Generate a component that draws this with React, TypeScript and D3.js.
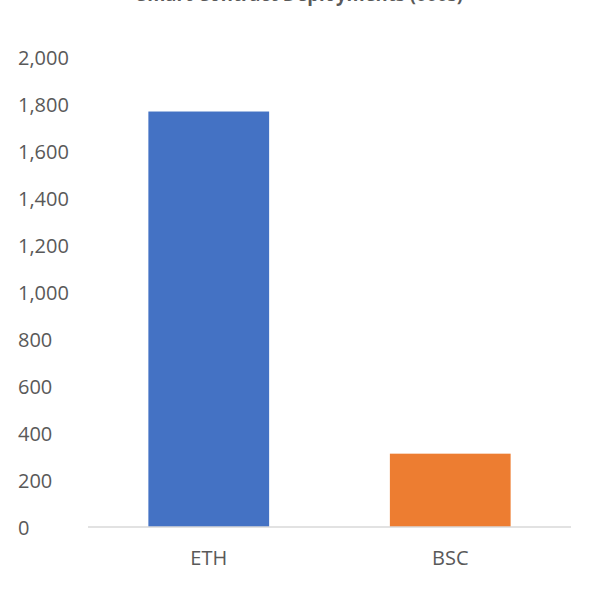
import React from "react";
import * as d3 from "d3";

const categories = ["ETH", "BSC"];
const values = [1768, 312];
const colors = ["#4472C4", "#ED7D31"];
const yTicks = [0, 200, 400, 600, 800, 1000, 1200, 1400, 1600, 1800, 2000];
const title = "Smart Contract Deployments (000s)";

export default function App() {
  const W = 600, H = 604;
  const x = d3.scaleBand<string>().domain(categories).range([88, 571]).paddingInner(0.5).paddingOuter(0.25);
  const y = d3.scaleLinear().domain([0, 2000]).range([527, 57]);
  const fmt = d3.format(",");
  const font = "'Open Sans', 'Noto Sans', sans-serif";
  return (
    <svg width={W} height={H} style={{ position: "absolute", left: 0, top: 0, background: "#fff" }}>
      <rect width={W} height={H} fill="#fff" />
      <text x={300} y={1} textAnchor="middle" fontFamily={font} fontSize={19} fontWeight="bold" fill="#595959" textLength={326} lengthAdjust="spacingAndGlyphs">{title}</text>
      {yTicks.map((t) => (
        <text key={t} x={18} y={y(t) + 1} dy="0.35em" fontFamily={font} fontSize={20} fill="#595959">{fmt(t)}</text>
      ))}
      {categories.map((c, i) => (
        <rect key={c} x={x(c)} y={y(values[i])} width={x.bandwidth()} height={y(0) - y(values[i])} fill={colors[i]} />
      ))}
      <line x1={88} x2={571} y1={y(0)} y2={y(0)} stroke="#D9D9D9" strokeWidth={1.5} />
      {categories.map((c) => (
        <text key={c} x={(x(c) as number) + x.bandwidth() / 2} y={558} dy="0.35em" textAnchor="middle" fontFamily={font} fontSize={20} fill="#595959">{c}</text>
      ))}
    </svg>
  );
}
